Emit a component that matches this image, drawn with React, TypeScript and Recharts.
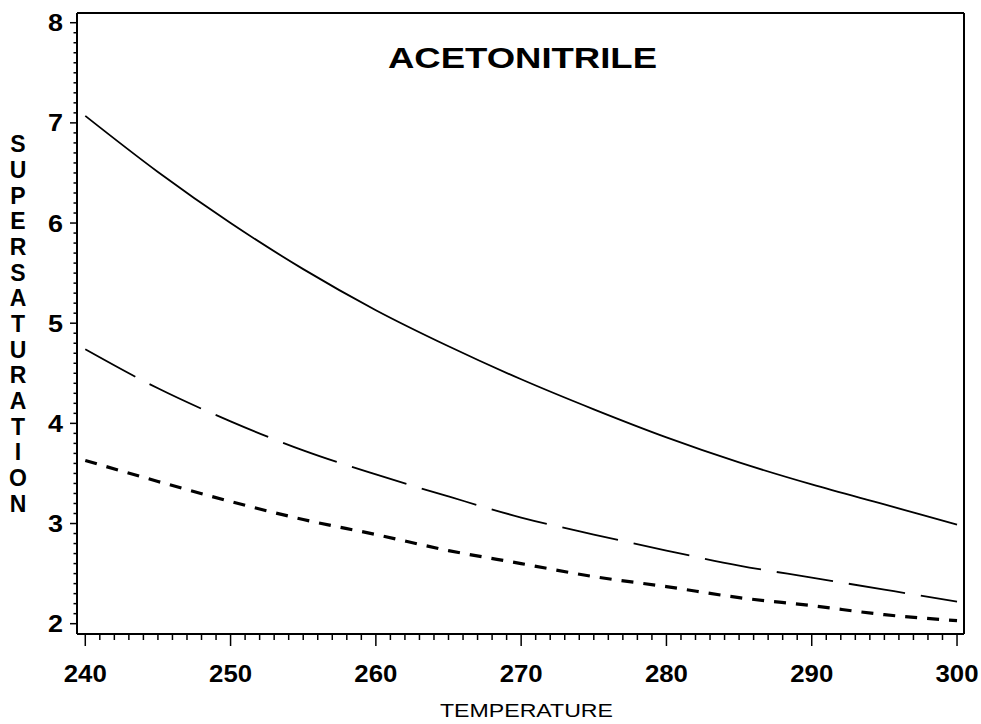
import React from "react";
import {
  LineChart,
  Line,
  XAxis,
  YAxis,
  ReferenceLine,
  Customized,
} from "recharts";

const temperature = [240, 245, 250, 255, 260, 265, 270, 275, 280, 285, 290, 295, 300];
const solidCurve = [7.07, 6.51, 6.0, 5.54, 5.13, 4.77, 4.44, 4.14, 3.86, 3.61, 3.39, 3.19, 2.99];
const longDashCurve = [4.74, 4.35, 4.02, 3.73, 3.49, 3.27, 3.06, 2.89, 2.73, 2.58, 2.46, 2.34, 2.22];
const shortDashCurve = [3.63, 3.42, 3.22, 3.04, 2.89, 2.73, 2.6, 2.47, 2.37, 2.26, 2.18, 2.09, 2.03];

const xMajorTicks = [240, 250, 260, 270, 280, 290, 300];
const yMajorTicks = [2, 3, 4, 5, 6, 7, 8];
const xDomain: [number, number] = [239.43, 300.48];
const yDomain: [number, number] = [1.897, 8.097];

const xAllTicks: number[] = [];
for (let t = 240; t <= 300; t += 1) xAllTicks.push(t);
const yAllTicks: number[] = [];
for (let i = 20; i <= 80; i += 1) yAllTicks.push(i / 10);

const yTitle = "SUPERSATURATION";
const xTitle = "TEMPERATURE";
const chartTitle = "ACETONITRILE";

const data = temperature.map((t, i) => ({
  t,
  solid: solidCurve[i],
  longDash: longDashCurve[i],
  shortDash: shortDashCurve[i],
}));

const FONT = "'Liberation Sans', Arial, Helvetica, sans-serif";

const XTick = (props: any) => {
  const { x, y, payload } = props;
  const v = payload.value;
  const major = xMajorTicks.includes(v);
  return (
    <g>
      <line x1={x} x2={x} y1={y} y2={y + (major ? 12 : 6)} stroke="#000" strokeWidth={1.5} />
      {major && (
        <text
          x={x}
          y={y + 48}
          textAnchor="middle"
          fontFamily={FONT}
          fontWeight="bold"
          fontSize={24}
          fill="#000"
          textLength={43}
          lengthAdjust="spacingAndGlyphs"
        >
          {v}
        </text>
      )}
    </g>
  );
};

const YTick = (props: any) => {
  const { x, y, payload } = props;
  const v = payload.value;
  const major = yMajorTicks.some((m) => Math.abs(m - v) < 1e-6);
  return (
    <g>
      <line x1={x} x2={x - (major ? 7 : 3.5)} y1={y} y2={y} stroke="#000" strokeWidth={1.5} />
      {major && (
        <text
          x={x - 14}
          y={y + 8.5}
          textAnchor="end"
          fontFamily={FONT}
          fontWeight="bold"
          fontSize={24}
          fill="#000"
          textLength={15}
          lengthAdjust="spacingAndGlyphs"
        >
          {v}
        </text>
      )}
    </g>
  );
};

const YTitle = (props: any) => {
  const vb = props.viewBox || { x: 17, y: 13, width: 60, height: 621 };
  const cy = vb.y + vb.height / 2;
  const letters = yTitle.split("");
  const step = 25.68;
  return (
    <text fontFamily={FONT} fontWeight="bold" fontSize={23} fill="#000" textAnchor="middle">
      {letters.map((ch, i) => (
        <tspan key={i} x={18} y={cy + (i - (letters.length - 1) / 2) * step + 8.5}>
          {ch}
        </tspan>
      ))}
    </text>
  );
};

const XTitle = () => (
  <text
    x={526.5}
    y={717}
    textAnchor="middle"
    fontFamily={FONT}
    fontSize={19}
    fill="#000"
    textLength={173}
    lengthAdjust="spacingAndGlyphs"
  >
    {xTitle}
  </text>
);

const Title = () => (
  <text
    x={522.5}
    y={68}
    textAnchor="middle"
    fontFamily={FONT}
    fontWeight="bold"
    fontSize={29}
    fill="#000"
    textLength={269}
    lengthAdjust="spacingAndGlyphs"
  >
    {chartTitle}
  </text>
);

export default function App() {
  return (
    <div style={{ position: "absolute", left: 0, top: 0, width: 981, height: 724, background: "#fff" }}>
      <LineChart width={981} height={724} data={data} margin={{ top: 13, right: 17, bottom: 30, left: 17 }}>
        <XAxis
          dataKey="t"
          type="number"
          domain={xDomain}
          ticks={xAllTicks}
          interval={0}
          tick={<XTick />}
          tickLine={false}
          tickSize={0}
          tickMargin={0}
          height={60}
          axisLine={{ stroke: "#000", strokeWidth: 2 }}
          allowDataOverflow
          label={<XTitle />}
        />
        <YAxis
          type="number"
          domain={yDomain}
          ticks={yAllTicks}
          interval={0}
          tick={<YTick />}
          tickLine={false}
          tickSize={0}
          tickMargin={0}
          width={60}
          axisLine={{ stroke: "#000", strokeWidth: 2 }}
          allowDataOverflow
          label={<YTitle />}
        />
        <ReferenceLine y={yDomain[1]} stroke="#000" strokeWidth={2} />
        <ReferenceLine x={xDomain[1]} stroke="#000" strokeWidth={2} />
        <Line
          type="monotone"
          dataKey="solid"
          stroke="#000"
          strokeWidth={1.8}
          dot={false}
          activeDot={false}
          isAnimationActive={false}
        />
        <Line
          type="monotone"
          dataKey="longDash"
          stroke="#000"
          strokeWidth={1.8}
          strokeDasharray="57 16"
          dot={false}
          activeDot={false}
          isAnimationActive={false}
        />
        <Line
          type="monotone"
          dataKey="shortDash"
          stroke="#000"
          strokeWidth={3.2}
          strokeDasharray="12 10"
          dot={false}
          activeDot={false}
          isAnimationActive={false}
        />
        <Customized component={<Title />} />
      </LineChart>
    </div>
  );
}
